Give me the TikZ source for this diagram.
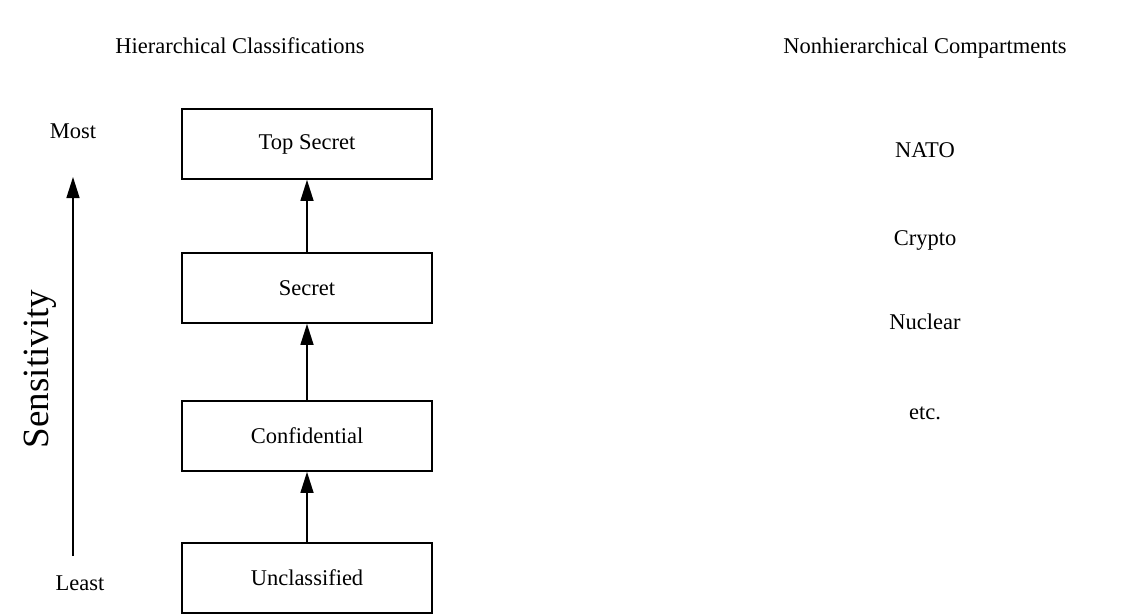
\documentclass[tikz,border=0pt]{standalone}
\usepackage{fontspec}
\setmainfont{Liberation Serif}
\usetikzlibrary{arrows.meta}
\begin{document}
\begin{tikzpicture}[x=1pt,y=-1pt,
  level/.style={draw,line width=1.7pt,minimum width=250pt,minimum height=70pt,
    inner sep=0pt,font=\fontsize{22.5}{26}\selectfont},
  label/.style={font=\fontsize{22.5}{26}\selectfont,inner sep=0pt},
  up/.style={line width=1.4pt,-{Triangle[length=21pt,width=13pt]}}]
\useasboundingbox (0,0) rectangle (1124,615);

% column headings, set on a common baseline
\node[label,anchor=base] (hh) at (240,54) {Hierarchical Classifications};
\node[label,anchor=base] (nh) at (925,54) {Nonhierarchical Compartments};

% classification levels
\node[level] (ts) at (307,144) {Top Secret};
\node[level] (s)  at (307,288) {Secret};
\node[level] (c)  at (307,436) {Confidential};
\node[level] (u)  at (307,578) {Unclassified};

\draw[up] (u.north) -- (c.south);
\draw[up] (c.north) -- (s.south);
\draw[up] (s.north) -- (ts.south);

% sensitivity scale
\node[label] (most)  at (73,131) {Most};
\node[label] (least) at (80,583) {Least};
\coordinate (lo) at (73,556);
\coordinate (hi) at (73,177);
\draw[up] (lo) -- (hi);
\node[font=\fontsize{37}{40}\selectfont,rotate=90,inner sep=0pt] (sens) at (40,369) {Sensitivity};

% compartments
\node[label] (nato) at (925,150) {NATO};
\node[label] (cry)  at (925,240) {Crypto};
\node[label] (nuc)  at (925,322) {Nuclear};
\node[label] (etc)  at (925,413) {etc.};
\end{tikzpicture}
\end{document}
